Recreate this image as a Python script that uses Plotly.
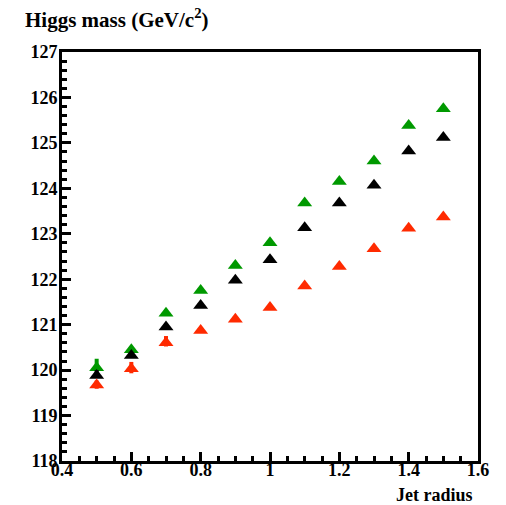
import plotly.graph_objects as go

jet_radius = [0.5, 0.6, 0.7, 0.8, 0.9, 1.0, 1.1, 1.2, 1.3, 1.4, 1.5]
mass_green = [120.05, 120.45, 121.25, 121.75, 122.3, 122.8, 123.68, 124.15, 124.6, 125.38, 125.75]
mass_black = [119.88, 120.32, 120.95, 121.42, 121.98, 122.43, 123.13, 123.68, 124.07, 124.82, 125.12]
mass_red = [119.67, 120.03, 120.6, 120.87, 121.12, 121.38, 121.85, 122.28, 122.67, 123.12, 123.37]
err_green_up = [0.2, 0.05, 0.05, 0, 0, 0, 0, 0, 0, 0, 0]
err_green_dn = [0.05, 0.05, 0.05, 0, 0, 0, 0, 0, 0, 0, 0]
err_black_up = [0.12, 0.05, 0.05, 0, 0, 0, 0, 0, 0, 0, 0]
err_black_dn = [0.05, 0.05, 0.05, 0, 0, 0, 0, 0, 0, 0, 0]
err_red_up = [0.1, 0.15, 0.15, 0, 0, 0, 0, 0, 0, 0, 0]
err_red_dn = [0.08, 0.1, 0.08, 0, 0, 0, 0, 0, 0, 0, 0]
x_ticks = [0.4, 0.6, 0.8, 1.0, 1.2, 1.4, 1.6]
x_tick_labels = ["0.4", "0.6", "0.8", "1", "1.2", "1.4", "1.6"]

series = [
    ("green", mass_green, err_green_up, err_green_dn, "#009900"),
    ("black", mass_black, err_black_up, err_black_dn, "#000000"),
    ("red", mass_red, err_red_up, err_red_dn, "#ff2a00"),
]

fig = go.Figure()
for name, ys, eu, ed, col in series:
    fig.add_trace(go.Scatter(
        x=jet_radius, y=ys, mode="markers", name=name,
        marker=dict(symbol="triangle-up", size=13, color=col),
        error_y=dict(type="data", symmetric=False, array=eu, arrayminus=ed,
                     color=col, thickness=4, width=0),
        showlegend=False,
    ))

font_main = "Liberation Serif"
fig.update_layout(
    width=506, height=505,
    margin=dict(l=54, r=36, t=44, b=52),
    paper_bgcolor="white", plot_bgcolor="white",
    font=dict(family=font_main, color="black", size=16),
    xaxis=dict(range=[0.4, 1.6], tickvals=x_ticks, ticktext=x_tick_labels,
               showgrid=False, zeroline=False, automargin=False,
               showline=True, mirror=True, linewidth=3, linecolor="black",
               ticks="inside", ticklen=9, tickwidth=3, tickcolor="black",
               ticklabelstandoff=-10,
               minor=dict(ticks="inside", ticklen=5, tickwidth=3, dtick=0.05, tick0=0.4, tickcolor="black"),
               tickfont=dict(family=font_main, size=18, color="black", weight="bold")),
    yaxis=dict(range=[118, 127], dtick=1, showgrid=False, zeroline=False, automargin=False,
               showline=True, mirror=True, linewidth=3, linecolor="black",
               ticks="inside", ticklen=9, tickwidth=3, tickcolor="black",
               ticklabelstandoff=-2,
               minor=dict(ticks="inside", ticklen=5, tickwidth=3, dtick=0.2, tickcolor="black"),
               tickfont=dict(family=font_main, size=18, color="black", weight="bold")),
    annotations=[
        dict(text="<b>Higgs mass (GeV/c<sup>2</sup>)</b>", xref="paper", yref="paper",
             x=-0.093, y=1.044, xanchor="left", yanchor="bottom", showarrow=False,
             font=dict(family=font_main, size=21, color="black")),
        dict(text="<b>Jet radius</b>", xref="paper", yref="paper",
             x=0.993, y=-0.055, xanchor="right", yanchor="top", showarrow=False,
             font=dict(family=font_main, size=18, color="black")),
    ],
)

fig.write_html("out.html")
